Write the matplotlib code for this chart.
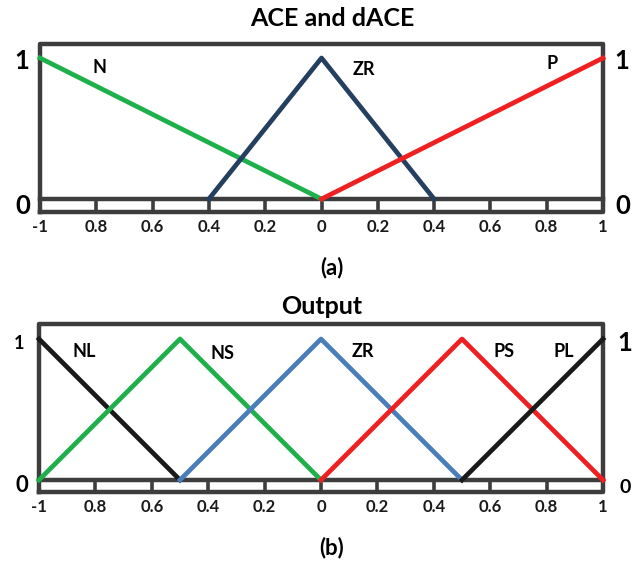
import matplotlib
matplotlib.use('Agg')
import matplotlib.pyplot as plt
import numpy as np

plt.rcParams['font.family'] = ['Lato', 'DejaVu Sans']

# membership functions, panel (a)
ace_names = ['N', 'ZR', 'P']
ace_x = [[-1, 0], [-0.4, 0, 0.4], [0, 1]]
ace_y = [[1, 0], [0, 1, 0], [0, 1]]
ace_colors = ['#1db04b', '#243f60', '#f02020']

# membership functions, panel (b)
out_names = ['NL', 'NS', 'ZR', 'PS', 'PL']
out_x = [[-1, -0.5], [-1, -0.5, 0], [-0.5, 0, 0.5], [0, 0.5, 1], [0.5, 1]]
out_y = [[1, 0], [0, 1, 0], [0, 1, 0], [0, 1, 0], [0, 1]]
out_colors = ['#1a1a1a', '#1db04b', '#4a7ebb', '#f02020', '#1a1a1a']

tick_pos = [-1, -0.8, -0.6, -0.4, -0.2, 0, 0.2, 0.4, 0.6, 0.8, 1]
tick_labels = ['-1', '0.8', '0.6', '0.4', '0.2', '0', '0.2', '0.4', '0.6', '0.8', '1']

FRAME = '#3d3d3d'
W, H = 639, 565


def make_axes(fig, left, right, top, bottom, y1, y0):
    # pixel box -> axes whose data y=1 sits at y1 px and y=0 at y0 px
    ax = fig.add_axes([left / W, (H - bottom) / H, (right - left) / W, (bottom - top) / H])
    unit = y0 - y1
    ax.set_xlim(-1, 1)
    ax.set_ylim(-(bottom - y0) / unit, 1 + (y1 - top) / unit)
    ax.axis('off')
    return ax


def draw_frame(ax):
    lo, hi = ax.get_ylim()
    kw = dict(color=FRAME, lw=3.2, clip_on=False, solid_capstyle='projecting', zorder=1)
    ax.plot([-1, 1, 1, -1, -1], [lo, lo, hi, hi, lo], **kw)
    ax.plot([-1, 1], [0, 0], **kw)
    for t in tick_pos[1:-1]:
        ax.plot([t, t], [lo, lo * 0.25], color=FRAME, lw=2.6, clip_on=False, zorder=1)
    for t, s in zip(tick_pos, tick_labels):
        ax.text(t, lo - 0.05, s, ha='center', va='top', fontsize=12,
                fontweight='bold', color='#1a1a1a')


fig = plt.figure(figsize=(W / 100, H / 100), dpi=100)

# (a)
ax1 = make_axes(fig, 40, 603, 44, 212, 58, 199)
draw_frame(ax1)
for xs, ys, c in zip(ace_x, ace_y, ace_colors):
    ax1.plot(xs, ys, color=c, lw=3.4, clip_on=False, zorder=3)
for name, (x, y) in zip(ace_names, [(-0.79, 0.93), (0.15, 0.92), (0.82, 0.96)]):
    ax1.text(x, y, name, ha='center', va='center', fontsize=13, fontweight='bold')
ax1.text(-1.065, 0.98, '1', ha='center', va='center', fontsize=18.5, fontweight='bold')
ax1.text(-1.06, -0.05, '0', ha='center', va='center', fontsize=18.5, fontweight='bold')
ax1.text(1.068, 0.98, '1', ha='center', va='center', fontsize=18.5, fontweight='bold')
ax1.text(1.07, -0.05, '0', ha='center', va='center', fontsize=18.5, fontweight='bold')
fig.text(332 / W, 1 - 19 / H, 'ACE and dACE', ha='center', va='center',
         fontsize=18, fontweight='bold')
fig.text(332 / W, 1 - 268 / H, '(a)', ha='center', va='center', fontsize=16,
         fontweight='bold')

# (b)
ax2 = make_axes(fig, 39, 603, 324, 492, 339, 480)
draw_frame(ax2)
for xs, ys, c in zip(out_x, out_y, out_colors):
    ax2.plot(xs, ys, color=c, lw=3.4, clip_on=False, zorder=3)
for name, (x, y) in zip(out_names, [(-0.84, 0.91), (-0.35, 0.90), (0.15, 0.91), (0.65, 0.91), (0.86, 0.91)]):
    ax2.text(x, y, name, ha='center', va='center', fontsize=13, fontweight='bold')
ax2.text(-1.07, 0.97, '1', ha='center', va='center', fontsize=13, fontweight='bold')
ax2.text(-1.06, -0.04, '0', ha='center', va='center', fontsize=16, fontweight='bold')
ax2.text(1.078, 0.97, '1', ha='center', va='center', fontsize=18.5, fontweight='bold')
ax2.text(1.08, -0.05, '0', ha='center', va='center', fontsize=14, fontweight='bold')
fig.text(322 / W, 1 - 307 / H, 'Output', ha='center', va='center',
         fontsize=18, fontweight='bold')
fig.text(332 / W, 1 - 548 / H, '(b)', ha='center', va='center', fontsize=16,
         fontweight='bold')

fig.savefig('out.png', dpi=100)
